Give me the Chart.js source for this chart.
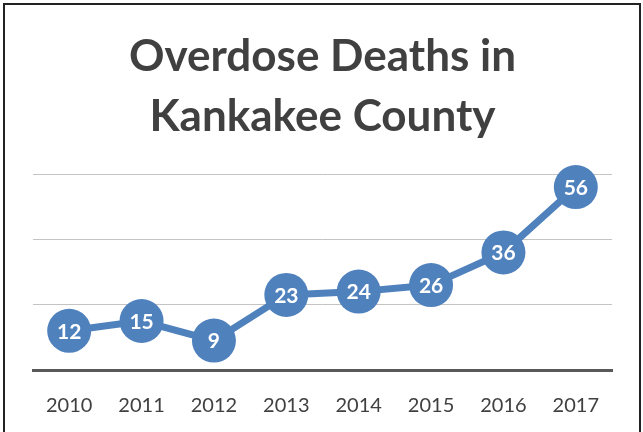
<!DOCTYPE html>
<html>
<head>
<meta charset="utf-8">
<script src="https://cdn.jsdelivr.net/npm/chart.js@4"></script>
<style>
  body { margin: 0; background: #fff; }
  #wrap { position: relative; width: 643px; height: 432px; overflow: hidden; }
  #frame { position: absolute; left: 3px; top: 3px; width: 634px; height: 440px;
           border: 2px solid #222; pointer-events: none; }
</style>
</head>
<body>
<div id="wrap">
  <canvas id="deaths" width="643" height="432"></canvas>
  <div id="frame"></div>
</div>
<script>
const years = ["2010", "2011", "2012", "2013", "2014", "2015", "2016", "2017"];
const deaths = [12, 15, 9, 23, 24, 26, 36, 56];
const titleLines = ["Overdose Deaths in", "Kankakee County"];

const blue = "#4f81bd";

// labels inside the markers
const pointLabels = {
  id: "pointLabels",
  afterDatasetsDraw(chart) {
    const ctx = chart.ctx;
    const meta = chart.getDatasetMeta(0);
    ctx.save();
    ctx.fillStyle = "#ffffff";
    ctx.font = "bold 21px Lato";
    ctx.textAlign = "center";
    ctx.textBaseline = "middle";
    meta.data.forEach((pt, i) => {
      ctx.fillText(chart.data.datasets[0].data[i], pt.x, pt.y + 1);
    });
    ctx.restore();
  }
};

const ctx = document.getElementById("deaths");
new Chart(ctx, {
  type: "line",
  data: {
    labels: years,
    datasets: [
      {
        data: deaths,
        borderColor: blue,
        backgroundColor: blue,
        borderWidth: 7,
        pointRadius: 22,
        pointHoverRadius: 22,
        pointBorderWidth: 0,
        pointBackgroundColor: blue,
        tension: 0,
        clip: false,
      },
    ],
  },
  options: {
    responsive: false,
    animation: false,
    events: [],
    layout: {
      padding: { left: 33, right: 31, top: 0, bottom: 0 },
    },
    plugins: {
      legend: { display: false },
      tooltip: { enabled: false },
      title: {
        display: true,
        text: titleLines,
        color: "#404040",
        font: { family: "Lato", weight: "bold", size: 44, lineHeight: 1.364 },
        padding: { top: 27, bottom: 27 },
      },
    },
    scales: {
      x: {
        offset: true,
        grid: { display: false, drawTicks: false },
        border: { display: true, color: "#595959", width: 3 },
        ticks: {
          color: "#404040",
          font: { family: "Lato", size: 20 },
          padding: 24,
        },
        afterFit(scale) {
          scale.height = 62;
        },
      },
      y: {
        min: 0,
        max: 60,
        ticks: { display: false, stepSize: 20 },
        grid: { color: "#c4c4c4", lineWidth: 1, drawTicks: false },
        border: { display: false },
      },
    },
  },
  plugins: [pointLabels],
});
</script>
</body>
</html>
